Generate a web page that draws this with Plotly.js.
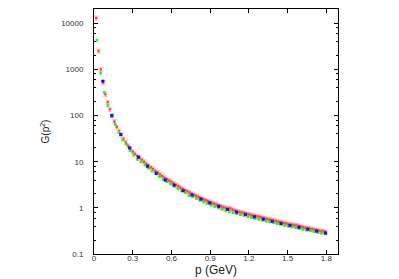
<!DOCTYPE html>
<html>
<head>
<meta charset="utf-8">
<script src="https://cdn.plot.ly/plotly-3.0.1.min.js"></script>
<style>html,body{margin:0;padding:0;background:#fff;}#chart{width:399px;height:279px;}</style>
</head>
<body>
<div id="chart"></div>
<script>
// Red series (dense, with error bars)
const redP = [0.0176,0.0352,0.0528,0.0704,0.088,0.1056,0.1232,0.1408,0.1584,0.176,
  0.1936,0.2112,0.2288,0.2464,0.264,0.2816,0.2992,0.3168,0.3344,0.352,
  0.3696,0.3872,0.4048,0.4224,0.44,0.4576,0.4752,0.4928,0.5104,0.528,
  0.5456,0.5632,0.5808,0.5984,0.616,0.6336,0.6512,0.6688,0.6864,0.704,
  0.7216,0.7392,0.7568,0.7744,0.792,0.8096,0.8272,0.8448,0.8624,0.88,
  0.8976,0.9152,0.9328,0.9504,0.968,0.9856,1.0032,1.0208,1.0384,1.056,
  1.0736,1.0912,1.1088,1.1264,1.144,1.1616,1.1792,1.1968,1.2144,1.232,
  1.2496,1.2672,1.2848,1.3024,1.32,1.3376,1.3552,1.3728,1.3904,1.408,
  1.4256,1.4432,1.4608,1.4784,1.496,1.5136,1.5312,1.5488,1.5664,1.584,
  1.6016,1.6192,1.6368,1.6544,1.672,1.6896,1.7072,1.7248,1.7424,1.76,
  1.7776,1.7952];
const redG = [13000,2500,1000,520,290,195,137,100,74,57,
  46,38,31,26,22,19,16.5,14.8,13.3,12.2,
  11.0,10.0,9.0,8.3,7.5,6.9,6.3,5.8,5.3,4.9,
  4.5,4.2,3.9,3.65,3.4,3.15,2.95,2.75,2.58,2.42,
  2.28,2.15,2.02,1.91,1.81,1.71,1.62,1.54,1.47,1.40,
  1.33,1.27,1.22,1.16,1.12,1.07,1.03,0.99,0.96,0.97,
  0.91,0.87,0.84,0.81,0.79,0.77,0.75,0.72,0.70,0.68,
  0.66,0.65,0.63,0.61,0.59,0.575,0.56,0.545,0.53,0.515,
  0.50,0.49,0.475,0.465,0.45,0.44,0.43,0.42,0.415,0.405,
  0.39,0.38,0.37,0.36,0.352,0.344,0.336,0.328,0.32,0.313,
  0.307,0.30];

// Green series
const greenP = [0.023,0.0515,0.080,0.1085,0.137,0.1655,0.194,0.2225,0.251,0.2795,
  0.308,0.3365,0.365,0.3935,0.422,0.4505,0.479,0.5075,0.536,0.5645,
  0.593,0.6215,0.65,0.6785,0.707,0.7355,0.764,0.7925,0.821,0.8495,
  0.878,0.9065,0.935,0.9635,0.992,1.0205,1.049,1.0775,1.106,1.1345,
  1.163,1.1915,1.22,1.2485,1.277,1.3055,1.334,1.3625,1.391,1.4195,
  1.448,1.4765,1.505,1.5335,1.562,1.5905,1.619,1.6475,1.676,1.7045,
  1.733,1.7615,1.79];
const greenG = [4300,830,316,165,95,64,44,30.5,24,17.5,
  14,11.2,10.0,8.6,7.3,6.3,5.5,4.75,4.15,3.7,
  3.3,2.95,2.62,2.35,2.13,1.85,1.75,1.6,1.46,1.34,
  1.24,1.15,1.07,1.0,0.93,0.875,0.83,0.785,0.745,0.71,
  0.68,0.65,0.62,0.59,0.565,0.54,0.515,0.495,0.475,0.455,
  0.435,0.415,0.40,0.385,0.37,0.355,0.342,0.33,0.318,0.306,
  0.295,0.285,0.275];

// Blue series
const blueP = [0.069,0.138,0.207,0.276,0.345,0.414,0.483,0.552,0.621,0.69,
  0.759,0.828,0.897,0.966,1.035,1.104,1.173,1.242,1.311,1.38,
  1.449,1.518,1.587,1.656,1.725,1.794];
const blueG = [556,100,39,20,12.6,8.0,5.6,4.0,3.1,2.35,
  1.9,1.55,1.28,1.08,0.93,0.81,0.72,0.64,0.57,0.51,
  0.46,0.415,0.38,0.345,0.315,0.285];

const xTicks = [0, 0.3, 0.6, 0.9, 1.2, 1.5, 1.8];
const xTickText = ['0', '0.3', '0.6', '0.9', '1.2', '1.5', '1.8'];
const yTicks = [0.1, 1, 10, 100, 1000, 10000];
const yTickText = ['0.1', '1', '10', '100', '1000', '10000'];

const font = 'Liberation Sans, Arial, sans-serif';

const traces = [
  {x: redP, y: redG, type: 'scatter', mode: 'markers', name: 'red',
   marker: {symbol: 'square', size: 2.5, color: 'rgba(255,20,20,0.7)'},
   error_y: {type: 'percent', value: 10, color: 'rgba(255,80,80,0.35)', thickness: 1, width: 2.5},
   error_x: {type: 'constant', value: 0.007, color: 'rgba(255,80,80,0.35)', thickness: 1, width: 0}},
  {x: greenP, y: greenG, type: 'scatter', mode: 'markers', name: 'green',
   marker: {symbol: 'square', size: 2.5, color: 'rgb(40,240,40)'},
   error_y: {type: 'percent', value: 5, color: 'rgba(60,240,60,0.5)', thickness: 1, width: 1.5}},
  {x: blueP, y: blueG, type: 'scatter', mode: 'markers', name: 'blue',
   marker: {symbol: 'square', size: 3, color: 'rgb(20,20,240)'},
   error_y: {type: 'percent', value: 4, color: 'rgba(40,40,240,0.5)', thickness: 1, width: 1.5}}
];

const minorVals = [];
[0.1, 1, 10, 100, 1000, 10000].forEach(d => [2,4,6,8].forEach(m => minorVals.push(d*m)));

const layout = {
  width: 399, height: 279,
  margin: {l: 94, r: 61, t: 9, b: 25},
  paper_bgcolor: '#fff', plot_bgcolor: '#fff',
  showlegend: false,
  font: {family: font, color: '#222'},
  xaxis: {
    range: [0, 1.89], tickmode: 'array', tickvals: xTicks, ticktext: xTickText,
    ticks: 'inside', ticklen: 4, tickwidth: 1, tickcolor: '#000',
    showline: true, linecolor: '#000', linewidth: 1, mirror: 'ticks',
    showgrid: false, zeroline: false,
    tickfont: {size: 8, family: font, color: '#333'},
    ticklabelstandoff: -4,
    title: {text: 'p (GeV)', font: {size: 12, family: font, color: '#222'}, standoff: 0},
    automargin: false
  },
  yaxis: {
    type: 'log', range: [-1, 4.31], tickmode: 'array', tickvals: yTicks, ticktext: yTickText,
    ticks: 'inside', ticklen: 4, tickwidth: 1, tickcolor: '#000',
    showline: true, linecolor: '#000', linewidth: 1, mirror: 'ticks',
    showgrid: false, zeroline: false,
    tickfont: {size: 8, family: font, color: '#333'},
    ticklabelstandoff: 8,
    minor: {tickmode: 'array', tickvals: minorVals, ticks: 'inside', ticklen: 2, tickcolor: '#000', showgrid: false},
    title: {text: 'G(p<sup>2</sup>)', font: {size: 10, family: font, color: '#222'}, standoff: 9},
    automargin: false
  }
};

Plotly.newPlot('chart', traces, layout, {displayModeBar: false, staticPlot: true});
</script>
</body>
</html>
